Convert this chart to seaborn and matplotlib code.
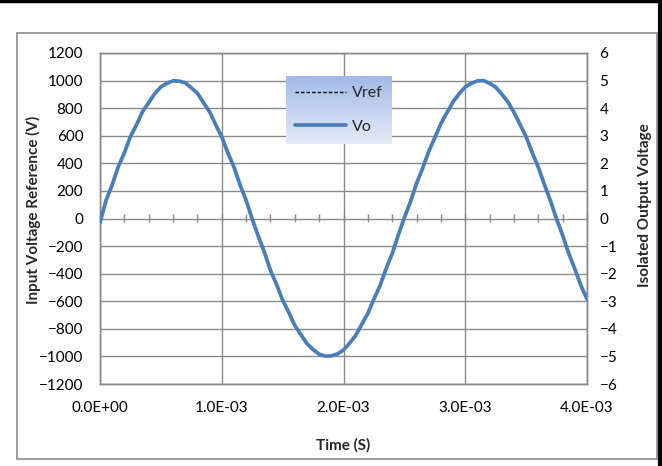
import numpy as np
import pandas as pd
import matplotlib
matplotlib.use("Agg")
import matplotlib.pyplot as plt
from matplotlib.lines import Line2D
from matplotlib.patches import Rectangle
from matplotlib.ticker import FuncFormatter, MultipleLocator
import seaborn as sns

# ---- data ----
time_s = [0.00e-3, 0.05e-3, 0.10e-3, 0.15e-3, 0.20e-3, 0.25e-3, 0.30e-3, 0.35e-3, 0.40e-3, 0.45e-3,
          0.50e-3, 0.55e-3, 0.60e-3, 0.65e-3, 0.70e-3, 0.75e-3, 0.80e-3, 0.85e-3, 0.90e-3, 0.95e-3,
          1.00e-3, 1.05e-3, 1.10e-3, 1.15e-3, 1.20e-3, 1.25e-3, 1.30e-3, 1.35e-3, 1.40e-3, 1.45e-3,
          1.50e-3, 1.55e-3, 1.60e-3, 1.65e-3, 1.70e-3, 1.75e-3, 1.80e-3, 1.85e-3, 1.90e-3, 1.95e-3,
          2.00e-3, 2.05e-3, 2.10e-3, 2.15e-3, 2.20e-3, 2.25e-3, 2.30e-3, 2.35e-3, 2.40e-3, 2.45e-3,
          2.50e-3, 2.55e-3, 2.60e-3, 2.65e-3, 2.70e-3, 2.75e-3, 2.80e-3, 2.85e-3, 2.90e-3, 2.95e-3,
          3.00e-3, 3.05e-3, 3.10e-3, 3.15e-3, 3.20e-3, 3.25e-3, 3.30e-3, 3.35e-3, 3.40e-3, 3.45e-3,
          3.50e-3, 3.55e-3, 3.60e-3, 3.65e-3, 3.70e-3, 3.75e-3, 3.80e-3, 3.85e-3, 3.90e-3, 3.95e-3,
          4.00e-3]

vref = [-20, 125, 249, 368, 482, 588, 685, 771, 844, 905,
        951, 982, 998, 998, 982, 951, 905, 844, 771, 685,
        588, 482, 368, 249, 125, 0, -125, -249, -368, -482,
        -588, -685, -771, -844, -905, -951, -982, -998, -998, -982,
        -951, -905, -844, -771, -685, -588, -482, -368, -249, -125,
        0, 125, 249, 368, 482, 588, 685, 771, 844, 905,
        951, 982, 998, 998, 982, 951, 905, 844, 771, 685,
        588, 482, 368, 249, 125, 0, -125, -249, -368, -482,
        -588]

vo = [-0.15, 0.66, 1.22, 1.88, 2.38, 2.97, 3.40, 3.88, 4.20, 4.53,
      4.77, 4.90, 4.99, 4.98, 4.92, 4.74, 4.54, 4.20, 3.87, 3.40,
      2.96, 2.38, 1.87, 1.22, 0.66, -0.02, -0.64, -1.22, -1.88, -2.39,
      -2.96, -3.40, -3.88, -4.21, -4.54, -4.75, -4.92, -4.99, -4.98, -4.91,
      -4.77, -4.52, -4.24, -3.84, -3.44, -2.92, -2.43, -1.82, -1.27, -0.60,
      0.03, 0.61, 1.27, 1.82, 2.43, 2.93, 3.44, 3.84, 4.23, 4.52,
      4.77, 4.90, 4.99, 5.00, 4.90, 4.76, 4.51, 4.23, 3.85, 3.41,
      2.96, 2.39, 1.86, 1.23, 0.64, -0.02, -0.61, -1.27, -1.83, -2.43,
      -2.92]

left_ticks = [-1200, -1000, -800, -600, -400, -200, 0, 200, 400, 600, 800, 1000, 1200]
right_ticks = [-6, -5, -4, -3, -2, -1, 0, 1, 2, 3, 4, 5, 6]
x_ticks = [0.0, 1.0e-3, 2.0e-3, 3.0e-3, 4.0e-3]

df = pd.DataFrame({"Time": time_s, "Vref": vref, "Vo": vo})

# ---- style ----
sns.set_theme(style="white")
plt.rcParams["font.family"] = ["Lato", "DejaVu Sans"]

W, H = 662, 466
fig = plt.figure(figsize=(W / 100, H / 100), dpi=100)
fig.patch.set_facecolor("white")

# chart-area border and the cropped outer frame
fig.add_artist(Rectangle((17 / W, 1 - 459 / H), 640 / W, 426 / H, transform=fig.transFigure,
                         fill=False, edgecolor="#8c8c8c", linewidth=1.2))
fig.add_artist(Line2D([0, 1], [1 - 1 / H, 1 - 1 / H], transform=fig.transFigure, color="black", lw=2.5))
fig.add_artist(Line2D([1 - 2 / W, 1 - 2 / W], [0, 1], transform=fig.transFigure, color="black", lw=3.0))

ax = fig.add_axes([100 / W, 1 - 384 / H, 487 / W, 331 / H])
ax2 = ax.twinx()

grid_c = "#8a8a8a"
blue = "#4a7ebb"
tick_fs = 11

sns.lineplot(data=df, x="Time", y="Vref", ax=ax, color="black", linestyle=(0, (2.5, 1.5)),
             linewidth=1.0, zorder=3)
sns.lineplot(data=df, x="Time", y="Vo", ax=ax2, color=blue, linewidth=2.7, zorder=3)

ax.set_xlim(0, 4.0e-3)
ax.set_ylim(-1200, 1200)
ax2.set_ylim(-6, 6)
ax.set_xticks(x_ticks)
ax.set_yticks(left_ticks)
ax2.set_yticks(right_ticks)
ax.xaxis.set_major_formatter(FuncFormatter(lambda v, p: f"{v:.1E}"))

ax.grid(True, color=grid_c, linewidth=1.0)
ax.set_axisbelow(True)
for a in (ax, ax2):
    for s in a.spines.values():
        s.set_color(grid_c)
        s.set_linewidth(1.0)
    a.set_xlabel("")
    a.set_ylabel("")

ax.tick_params(axis="y", length=0, pad=12, labelsize=tick_fs, labelcolor="black")
ax2.tick_params(axis="y", length=0, pad=9, labelsize=tick_fs, labelcolor="black")
ax.tick_params(axis="x", length=0, pad=12, labelsize=tick_fs, labelcolor="black")

# horizontal axis line through zero with major/minor tick marks
sec = ax.secondary_xaxis(0.5)
sec.set_xticks(x_ticks)
sec.xaxis.set_minor_locator(MultipleLocator(0.2e-3))
sec.tick_params(which="both", direction="inout", length=5.5, color=grid_c, width=1.0,
                labelbottom=False, labeltop=False)
sec.spines["bottom"].set_color(grid_c)
sec.spines["top"].set_visible(False)
sec.xaxis.set_major_formatter(FuncFormatter(lambda v, p: ""))

# axis titles
fig.text(33 / W, 1 - 210 / H, "Input Voltage Reference (V)", rotation=90, ha="center", va="center",
         fontsize=11, fontweight="bold")
fig.text(645 / W, 1 - 205 / H, "Isolated Output Voltage", rotation=90, ha="center", va="center",
         fontsize=11, fontweight="bold")
fig.text(343 / W, 1 - 445 / H, "Time (S)", ha="center", va="center", fontsize=11, fontweight="bold")

# legend with gradient background
lax = fig.add_axes([286 / W, 1 - 144 / H, 106 / W, 68 / H], zorder=5)
top_c = np.array(matplotlib.colors.to_rgb("#a3bbe6"))
bot_c = np.array(matplotlib.colors.to_rgb("#e4ebf7"))
grad = np.linspace(0, 1, 64)[:, None, None]
img = top_c[None, None, :] * (1 - grad) + bot_c[None, None, :] * grad
lax.imshow(img, aspect="auto", extent=(0, 1, 0, 1))
lax.set_axis_off()
handles = [Line2D([], [], color="black", linestyle=(0, (2.5, 1.5)), linewidth=1.0),
           Line2D([], [], color=blue, linewidth=2.7)]
lax.legend(handles, ["Vref", "Vo"], loc="center", frameon=False, fontsize=11.5,
           handlelength=3.2, handletextpad=0.4, labelspacing=1.2, borderaxespad=0)

fig.savefig("out.png", dpi=100)
